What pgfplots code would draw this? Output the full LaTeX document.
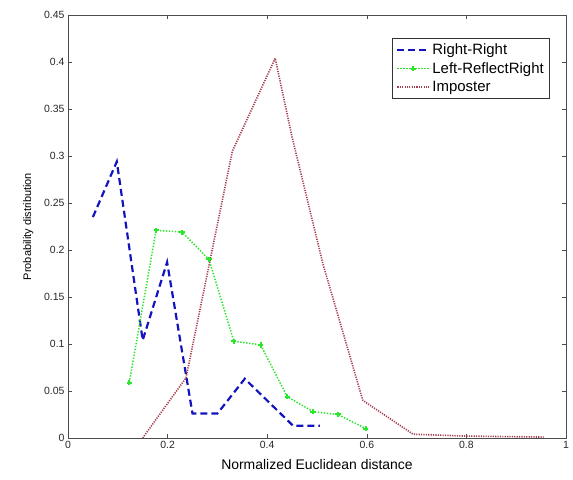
\documentclass[border=0pt]{standalone}
\usepackage{pgfplots}
\pgfplotsset{compat=1.18}
\usepackage{fontspec}
\setmainfont{Liberation Sans}

\definecolor{rrblue}{RGB}{20,20,190}
\definecolor{lrgreen}{RGB}{40,230,40}
\definecolor{impred}{RGB}{165,60,80}

\begin{document}
\begin{tikzpicture}
\begin{axis}[
  name=ax,
  scale only axis,
  width=498bp, height=423bp,
  xmin=0, xmax=1, ymin=0, ymax=0.45,
  xtick={0,0.2,...,1}, ytick={0,0.05,...,0.45},
  xticklabels={0,0.2,0.4,0.6,0.8,1},
  yticklabels={0,0.05,0.1,0.15,0.2,0.25,0.3,0.35,0.4,0.45},
  tick align=inside,
  major tick length=4bp,
  axis line style={black!70, line width=0.8pt},
  tick style={black!70, line width=0.6pt},
  ticklabel style={font=\fontsize{10.5}{12}\selectfont, text=black!85},
  xlabel={Normalized Euclidean distance},
  ylabel={Probability distribution},
  xlabel style={font=\fontsize{14}{16}\selectfont, yshift=-4bp},
  ylabel style={font=\fontsize{11}{13}\selectfont, yshift=4bp},
  legend style={at={(rel axis cs:1,1)}, anchor=north east,
    xshift=-16bp, yshift=-23bp, draw=black!80, line width=0.6pt,
    font=\fontsize{15}{17}\selectfont, row sep=2.5pt,
    inner xsep=4pt, inner ysep=3.5pt},
  legend cell align=left,
  legend image code/.code={
    \draw[mark repeat=2, mark phase=2, #1]
      plot coordinates {(0bp,0bp) (16bp,0bp) (32bp,0bp)};
  },
]
% same-image genuine pairs
\addplot[rrblue, line width=2.2pt, dash pattern=on 7bp off 4bp] coordinates {
  (0.05,0.235) (0.098,0.294) (0.15,0.104) (0.199,0.187) (0.25,0.026)
  (0.30,0.026) (0.355,0.063) (0.452,0.013) (0.506,0.013)
};
\addlegendentry{Right-Right}
% left ear against reflected right ear
\addplot[lrgreen, line width=1.5pt, dash pattern=on 1.4pt off 1.6pt,
  mark=+, mark size=2.6pt, mark options={solid, line width=2pt, lrgreen}] coordinates {
  (0.123,0.059) (0.177,0.221) (0.229,0.219) (0.283,0.190) (0.333,0.103)
  (0.387,0.099) (0.440,0.044) (0.492,0.028) (0.542,0.025) (0.598,0.010)
};
\addlegendentry{Left-ReflectRight}
% impostor pairs
\addplot[impred, line width=1.6pt, dash pattern=on 1.2pt off 1.2pt] coordinates {
  (0.150,0.000) (0.237,0.064) (0.330,0.305) (0.416,0.404) (0.450,0.320)
  (0.512,0.185) (0.592,0.040) (0.693,0.004) (0.800,0.002) (0.955,0.001)
};
\addlegendentry{Imposter}
\end{axis}
\pgfresetboundingbox
\path[use as bounding box] ([shift={(-68bp,-42bp)}]ax.south west) rectangle ([shift={(7bp,15bp)}]ax.north east);
\end{tikzpicture}
\end{document}
